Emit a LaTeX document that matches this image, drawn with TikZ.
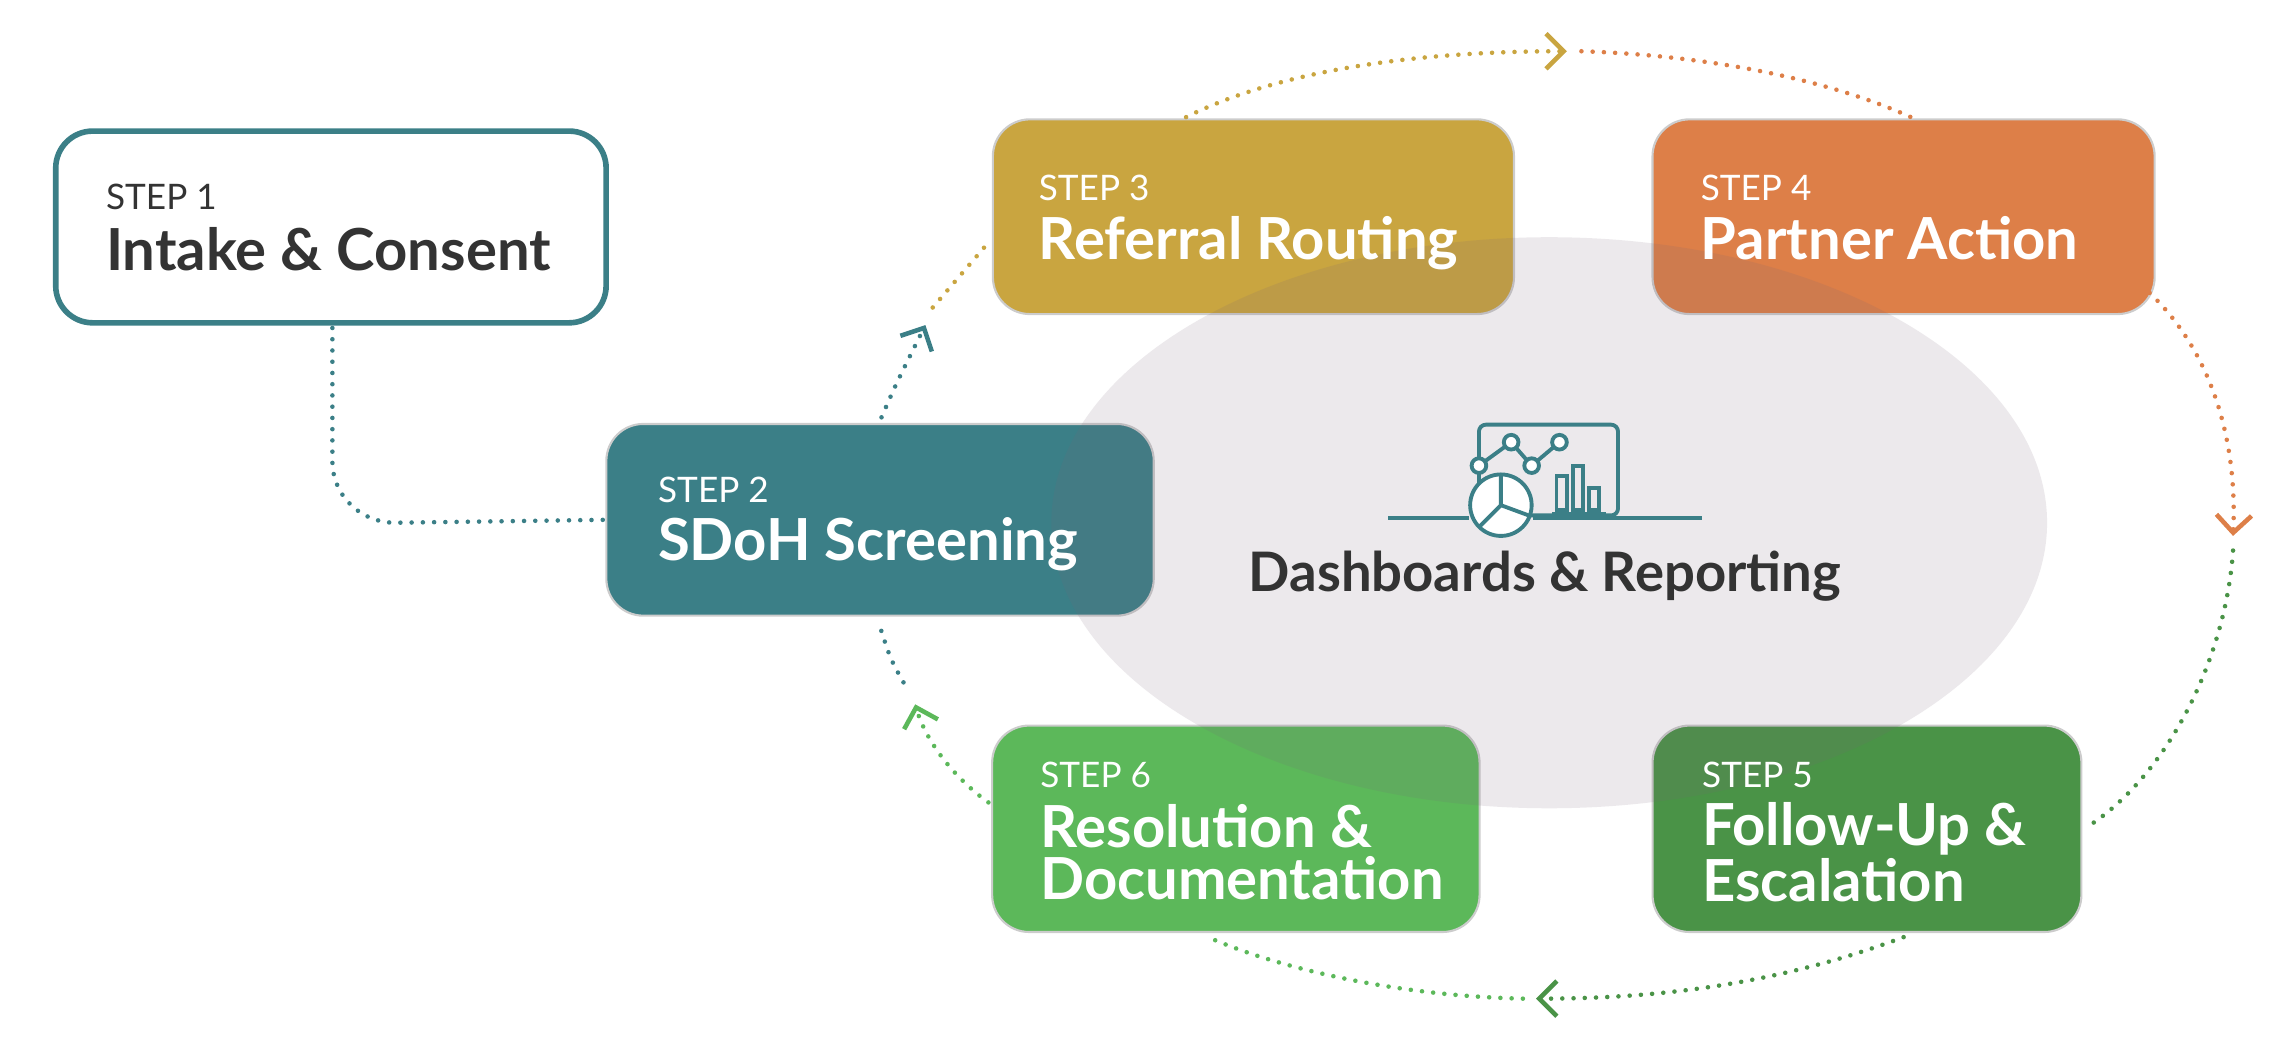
\documentclass[tikz,border=0pt]{standalone}
\usepackage{fontspec}
\setmainfont{Lato}
\usetikzlibrary{arrows.meta}
\definecolor{teal1}{HTML}{3B7F87}
\definecolor{must}{HTML}{C9A540}
\definecolor{oran}{HTML}{DD7F48}
\definecolor{dgre}{HTML}{4A9347}
\definecolor{lgre}{HTML}{5CB85A}
\definecolor{txt}{HTML}{333333}
\definecolor{ell}{RGB}{120,100,120}
\begin{document}
\begin{tikzpicture}[x=0.014643cm,y=-0.014643cm,
  box/.style={draw=black!20,line width=0.6pt,rounded corners=0.37cm,inner sep=0pt},
  steplab/.style={anchor=base west,inner sep=0pt,font=\fontsize{10}{11}\selectfont},
  title/.style={anchor=base west,inner sep=0pt,font=\fontsize{16.5}{18}\selectfont\bfseries},
  title2/.style={anchor=west,inner sep=0pt,align=left,font=\fontsize{16.5}{14.8}\selectfont\bfseries},
  con/.style={line width=1.3pt,dash pattern=on 0pt off 3.2pt,line cap=round},
  tip/.style={-{Straight Barb[length=5pt,width=10pt,line width=1.3pt]}}]
\useasboundingbox (0,0) rectangle (1568,711);
% boxes
\node[box,draw=teal1,line width=1.6pt,fill=white,minimum width=5.506cm,minimum height=1.918cm] (s1) at (226,155) {};
\node[box,fill=teal1,minimum width=5.476cm,minimum height=1.918cm] (s2) at (601,355) {};
\node[box,fill=must,minimum width=5.213cm,minimum height=1.948cm] (s3) at (856,148) {};
\node[box,fill=oran,minimum width=5.023cm,minimum height=1.948cm] (s4) at (1300,148) {};
\node[box,fill=dgre,minimum width=4.290cm,minimum height=2.065cm] (s5) at (1275,566) {};
\node[box,fill=lgre,minimum width=4.876cm,minimum height=2.065cm] (s6) at (844,566) {};
% ellipse
\fill[ell,opacity=0.14] (1058,357) ellipse [x radius=340, y radius=195];
% texts
\node[steplab,txt] (t1a) at (72,143) {STEP 1};
\node[title,txt] (t1b) at (72,185) {Intake \& Consent};
\node[steplab,white] (t2a) at (449,343) {STEP 2};
\node[title,white] (t2b) at (449,383) {SDoH Screening};
\node[steplab,white] (t3a) at (709,137) {STEP 3};
\node[title,white] (t3b) at (709,177) {Referral Routing};
\node[steplab,white] (t4a) at (1161,137) {STEP 4};
\node[title,white] (t4b) at (1161,177) {Partner Action};
\node[steplab,white] (t5a) at (1162,538) {STEP 5};
\node[title2,white] (t5b) at (1162,582) {Follow-Up \&\\Escalation};
\node[steplab,white] (t6a) at (710,538) {STEP 6};
\node[title2,white] (t6b) at (710,582) {Resolution \&\\Documentation};
\node[anchor=base,inner sep=0pt,txt,font=\fontsize{15.5}{17}\selectfont\bfseries] (dash) at (1055,404) {Dashboards \& Reporting};
% icon
\begin{scope}[teal1,line width=1.1pt]
\draw[rounded corners=2pt] (1010,290) rectangle (1105,352);
\draw (948,354) -- (1003,354) (1047,354) -- (1162,354);
\draw (1010,318) -- (1032,302) -- (1046,318) -- (1065,302);
\foreach \p in {(1010,318),(1032,302),(1046,318),(1065,302)} \filldraw[fill=white] \p circle (5);
\draw (1063,348) rectangle (1070,325) (1074,348) rectangle (1081,318) (1085,348) rectangle (1092,333);
\draw (1060,351) -- (1097,351);
\filldraw[fill=white] (1025,345) circle (21);
\draw (1025,324) -- (1025,345) -- (1044,352) (1025,345) -- (1010,360);
\end{scope}
% connectors
\coordinate (a1) at (227,224);
\draw[con,teal1] (a1) -- (227,315) to[out=-90,in=180] (270,357) -- (s2.west);
\coordinate (b1) at (602,285); \coordinate (b2) at (632,222);
\coordinate (b3) at (637,210); \coordinate (b4) at (673,168);
\draw[con,teal1,tip] (b1) .. controls (612,262) .. (b2);
\draw[con,must] (b3) -- (b4);
\coordinate (c1) at (810,80); \coordinate (c2) at (1070,35);
\coordinate (c3) at (1080,35); \coordinate (c4) at (1305,80);
\draw[con,must,tip] (c1) .. controls (880,45) and (980,35) .. (c2);
\draw[con,oran] (c3) .. controls (1170,38) and (1250,55) .. (c4);
\coordinate (d1) at (1468,200); \coordinate (d2) at (1525,366);
\coordinate (d3) at (1525,376); \coordinate (d4) at (1425,565);
\draw[con,oran,tip] (d1) .. controls (1510,240) and (1528,300) .. (d2);
\draw[con,dgre] (d3) .. controls (1520,450) and (1480,530) .. (d4);
\coordinate (e1) at (1300,640); \coordinate (e2) at (1049,682);
\coordinate (e3) at (1040,682); \coordinate (e4) at (825,640);
\draw[con,dgre,tip] (e1) .. controls (1220,670) and (1140,682) .. (e2);
\draw[con,lgre] (e3) .. controls (950,680) and (870,660) .. (e4);
\coordinate (f1) at (675,548); \coordinate (f2) at (625,481);
\coordinate (f3) at (617,466); \coordinate (f4) at (600,425);
\draw[con,lgre,tip] (f1) .. controls (650,530) and (632,505) .. (f2);
\draw[con,teal1] (f3) .. controls (608,450) .. (f4);
\end{tikzpicture}
\end{document}
